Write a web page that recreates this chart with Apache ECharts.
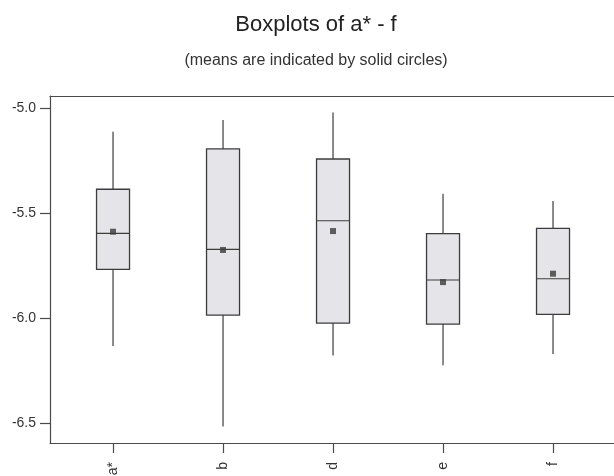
<!DOCTYPE html>
<html>
<head>
<meta charset="utf-8">
<script src="https://cdn.jsdelivr.net/npm/echarts@6/dist/echarts.min.js"></script>
<style>
html,body{margin:0;padding:0;background:#fff;}
#chart{width:614px;height:476px;}
</style>
</head>
<body>
<div id="chart"></div>
<script>
const categories = ['a*', 'b', 'd', 'e', 'f'];
const whiskerLow  = [-6.133, -6.517, -6.179, -6.225, -6.171];
const q1Values    = [-5.768, -5.986, -6.024, -6.029, -5.983];
const medians     = [-5.597, -5.673, -5.537, -5.819, -5.813];
const q3Values    = [-5.387, -5.195, -5.243, -5.598, -5.573];
const whiskerHigh = [-5.113, -5.057, -5.021, -5.408, -5.443];
const means       = [-5.589, -5.676, -5.586, -5.829, -5.789];
const yTicks = [-5.0, -5.5, -6.0, -6.5];

const boxData = categories.map((c, i) => [i + 1, whiskerLow[i], q1Values[i], medians[i], q3Values[i], whiskerHigh[i]]);
const meanData = categories.map((c, i) => [i + 1, means[i]]);
const xPositions = categories.map((c, i) => i + 1);

const FONT = 'Liberation Sans';
const AX = '#4a4a4a';
const chart = echarts.init(document.getElementById('chart'), null, {renderer: 'canvas'});

function renderBox(params, api) {
  const x = api.value(0);
  const pMin = api.coord([x, api.value(1)]);
  const pQ1 = api.coord([x, api.value(2)]);
  const pMed = api.coord([x, api.value(3)]);
  const pQ3 = api.coord([x, api.value(4)]);
  const pMax = api.coord([x, api.value(5)]);
  const half = 16.5;
  const lineStyle = {stroke: '#3c3c3c', lineWidth: 1.2, fill: null};
  return {
    type: 'group',
    children: [
      {type: 'line', shape: {x1: pMax[0], y1: pMax[1], x2: pQ3[0], y2: pQ3[1]}, style: lineStyle},
      {type: 'line', shape: {x1: pQ1[0], y1: pQ1[1], x2: pMin[0], y2: pMin[1]}, style: lineStyle},
      {type: 'rect', shape: {x: pQ3[0] - half, y: pQ3[1], width: half * 2, height: pQ1[1] - pQ3[1]},
        style: {fill: '#e5e5e9', stroke: '#3c3c3c', lineWidth: 1.3}},
      {type: 'line', shape: {x1: pMed[0] - half, y1: pMed[1], x2: pMed[0] + half, y2: pMed[1]}, style: lineStyle}
    ]
  };
}

chart.setOption({
  animation: false,
  backgroundColor: '#ffffff',
  title: [
    {text: 'Boxplots of a* - f', left: 311, textAlign: 'center', top: 9,
      textStyle: {fontFamily: FONT, fontSize: 22, fontWeight: 'normal', color: '#222'}},
    {text: '(means are indicated by solid circles)', left: 311, textAlign: 'center', top: 48,
      textStyle: {fontFamily: FONT, fontSize: 16, fontWeight: 'normal', color: '#333'}}
  ],
  grid: {left: 50, top: 96, bottom: 33, right: -2, show: false, containLabel: false, outerBoundsMode: 'none'},
  xAxis: [{
    type: 'value', min: 0.427, max: 5.5725,
    splitLine: {show: false},
    axisLine: {show: true, lineStyle: {color: AX, width: 1.2}},
    axisTick: {show: true, inside: false, length: 10, customValues: xPositions, lineStyle: {color: AX, width: 1.2}},
    axisLabel: {show: true, rotate: 90, margin: 19, customValues: xPositions,
      formatter: v => categories[Math.round(v) - 1] || '',
      fontFamily: FONT, fontSize: 14, color: '#333'}
  }, {
    type: 'value', position: 'top', min: 0.427, max: 5.5725,
    splitLine: {show: false},
    axisLine: {show: true, lineStyle: {color: AX, width: 1.2}},
    axisTick: {show: false}, axisLabel: {show: false}
  }],
  yAxis: {
    type: 'value', min: -6.595, max: -4.943,
    splitLine: {show: false},
    axisLine: {show: true, lineStyle: {color: AX, width: 1.2}},
    axisTick: {show: true, inside: false, length: 10, customValues: yTicks, lineStyle: {color: AX, width: 1.2}},
    axisLabel: {show: true, margin: 14, customValues: yTicks,
      formatter: v => v.toFixed(1),
      fontFamily: FONT, fontSize: 14, color: '#333'}
  },
  series: [
    {type: 'custom', renderItem: renderBox, data: boxData, encode: {x: 0, y: [1, 2, 3, 4, 5]}, silent: true},
    {type: 'scatter', data: meanData, symbol: 'rect', symbolSize: 6, itemStyle: {color: '#3a3a3a'}, silent: true, z: 5}
  ]
});
</script>
</body>
</html>
